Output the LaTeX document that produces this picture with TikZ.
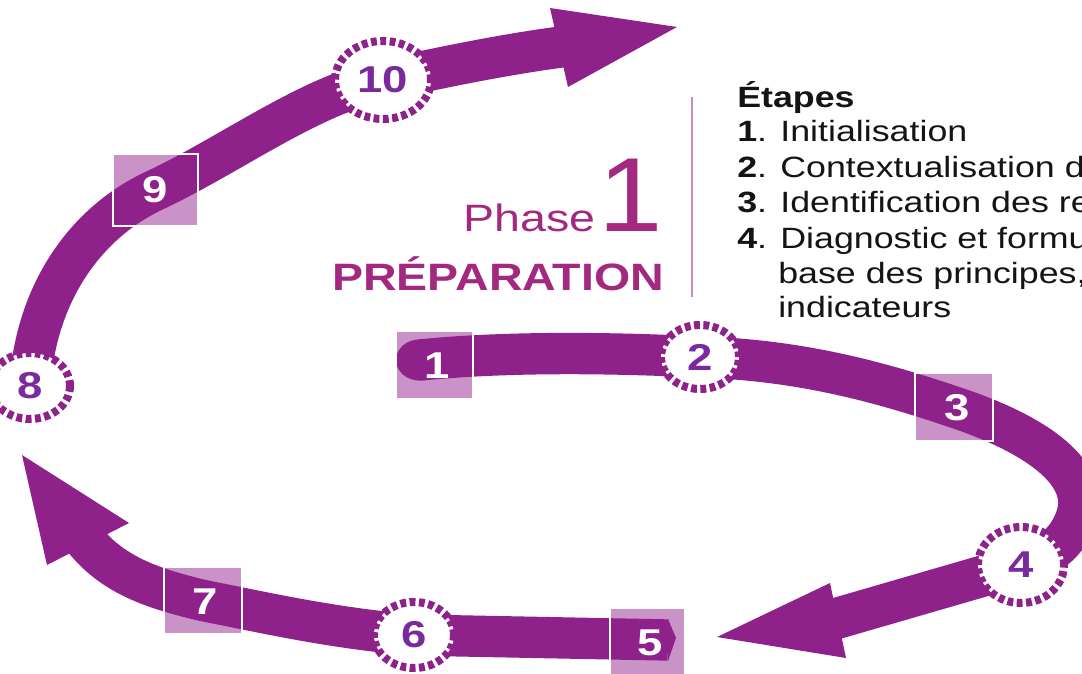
\documentclass[tikz,border=0pt]{standalone}
\usepackage{fontspec}
\setmainfont{Liberation Sans}
\usepackage{graphicx}
\usetikzlibrary{shapes.geometric}
\definecolor{pur}{RGB}{142,34,138}
\definecolor{sqc}{RGB}{201,147,199}
\definecolor{numc}{RGB}{122,42,158}
\definecolor{phc}{RGB}{163,40,128}
\definecolor{linec}{RGB}{197,139,190}
\definecolor{txt}{RGB}{20,20,20}
\newcommand\sx[1]{\scalebox{1.22}[1]{#1}}
\begin{document}
\begin{tikzpicture}[x=0.75pt,y=-0.75pt,
  band/.style={draw=pur, line width=31pt},
  ring/.style={ellipse, draw=pur, fill=white, line width=6pt, dash pattern=on 4.4pt off 2.6pt,
    inner sep=0pt, outer sep=0pt, text=numc, font=\fontsize{28}{28}\selectfont\bfseries},
  sqbox/.style={rectangle, fill=sqc, inner sep=0pt, outer sep=0pt},
  sqnum/.style={text=white, font=\fontsize{28}{28}\selectfont\bfseries, inner sep=0pt},
  sqedge/.style={draw=white, line width=1.2pt},
  item/.style={anchor=base west, inner sep=0pt, text=txt, font=\fontsize{22}{22}\selectfont},
  phtext/.style={inner sep=0pt, text=phc},
]
\useasboundingbox (0,0) rectangle (1082,674);
\clip (0,0) rectangle (1082,674);

% light squares (under the band)
\node[sqbox, minimum width=57.75pt, minimum height=51pt] (sq1) at (434.5,365) {};
\node[sqbox, minimum width=58.5pt, minimum height=51pt] (sq3) at (954,407) {};
\node[sqbox, minimum width=56.25pt, minimum height=50.25pt] (sq5) at (647.5,641.5) {};
\node[sqbox, minimum width=58.5pt, minimum height=50.25pt] (sq7) at (203,600.5) {};
\node[sqbox, minimum width=63.75pt, minimum height=54pt] (sq9) at (155.5,190) {};

% centres of the rings
\coordinate (p2) at (700,357);
\coordinate (p4) at (1021,565);
\coordinate (p6) at (414,635);
\coordinate (p8) at (30,386);
\coordinate (p10) at (383,80);

% band A : 1 -> 2 -> 3 -> 4 -> arrow
\coordinate (a0) at (420,360);
\coordinate (a2) at (1077,515);
\coordinate (a1) at (833,619.5);
\coordinate (tipA) at (717,637);
\coordinate (wA1) at (830,583);
\coordinate (wA2) at (846,658);
\fill[pur] (a0) ellipse [x radius=18pt, y radius=15.5pt];
\draw[band] (a0) .. controls (500,352) and (600,352) .. (p2)
  .. controls (800,360) and (880,382) .. (sq3.center)
  .. controls (1030,432) and (1090,470) .. (a2)
  .. controls (1068,545) and (1045,558) .. (p4) -- (a1);
\fill[pur] (tipA) -- (wA1) -- (wA2) -- cycle;

% band B : 5 -> 6 -> 7 -> arrow
\coordinate (b0) at (668,640);
\coordinate (b1) at (84,539);
\coordinate (tipB) at (22,455);
\coordinate (wB1) at (129,523);
\coordinate (wB2) at (47,565);
\draw[band] (b0) -- (p6) .. controls (330,628) and (262,612) .. (sq7.center)
  .. controls (150,588) and (112,574) .. (b1);
\fill[pur] (668,619) -- (676,638) -- (668,661) -- cycle;
\fill[pur] (tipB) -- (wB1) -- (wB2) -- cycle;

% band C : 8 -> 9 -> 10 -> arrow
\coordinate (c1) at (564,46.6);
\coordinate (tipC) at (677,27);
\coordinate (wC1) at (550,8);
\coordinate (wC2) at (568,87);
\draw[band] (p8) .. controls (35,300) and (80,225) .. (sq9.center)
  .. controls (230,155) and (310,95) .. (p10)
  .. controls (440,68) and (500,55) .. (c1);
\fill[pur] (tipC) -- (wC1) -- (wC2) -- cycle;

% white square edges
\foreach \s in {sq1,sq3,sq5,sq7,sq9}
  \draw[sqedge] (\s.north west) rectangle (\s.south east);

% rings
\node[ring, minimum width=58.5pt, minimum height=48pt] (c2) at (p2) {\sx{2}};
\node[ring, minimum width=64.5pt, minimum height=57pt] (c4) at (p4) {\sx{4}};
\node[ring, minimum width=60pt, minimum height=49.5pt] (c6) at (p6) {\sx{6}};
\node[ring, minimum width=60pt, minimum height=49.5pt] (c8) at (p8) {\sx{8}};
\node[ring, minimum width=72pt, minimum height=58.5pt] (c10) at (p10) {\sx{10}};

% square numbers
\node[sqnum] (n1) at (437,366) {\sx{1}};
\node[sqnum] (n3) at (957,408) {\sx{3}};
\node[sqnum] (n5) at (650,643) {\sx{5}};
\node[sqnum] (n7) at (205,602) {\sx{7}};
\node[sqnum] (n9) at (155,190) {\sx{9}};

% phase title
\node[phtext, anchor=base east, font=\fontsize{28.6}{30}\selectfont] (phase) at (596,231) {\sx{Phase}};
\node[phtext, anchor=base west, font=\fontsize{79}{79}\selectfont] (big1) at (598,231) {\scalebox{1.1}[1]{1}};
\node[phtext, anchor=base west, font=\fontsize{28.6}{30}\selectfont\bfseries] (prep) at (332,290) {\sx{PRÉPARATION}};

% separator
\coordinate (v1) at (692,97);
\coordinate (v2) at (692,297);
\draw[linec, line width=1.5pt] (v1) -- (v2);

% steps list
\node[item, font=\fontsize{22}{22}\selectfont\bfseries] (et) at (737,108) {\sx{Étapes}};
\node[item] (e1) at (737,142) {\sx{\textbf{1}. Initialisation}};
\node[item] (e2) at (737,177) {\sx{\textbf{2}. Contextualisation d}};
\node[item] (e3) at (737,212) {\sx{\textbf{3}. Identification des re}};
\node[item] (e4) at (737,248) {\sx{\textbf{4}. Diagnostic et formu}};
\node[item] (e5) at (778,283) {\sx{base des principes,}};
\node[item] (e6) at (778,317) {\sx{indicateurs}};
\end{tikzpicture}
\end{document}
